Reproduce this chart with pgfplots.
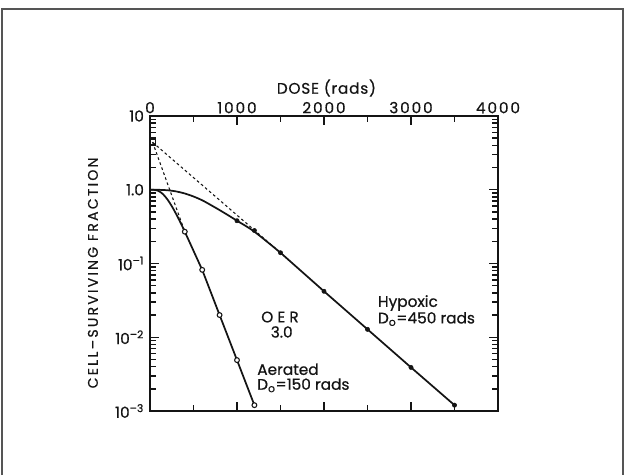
\documentclass[border=0pt]{standalone}
\usepackage{pgfplots}
\pgfplotsset{compat=1.18}
\usepackage{fontspec}
\setmainfont{Poppins}[FakeBold=0.6]
\definecolor{framegray}{RGB}{85,85,85}
\definecolor{ink}{RGB}{20,20,20}
\begin{document}
\begin{tikzpicture}[x=0.75pt,y=0.75pt]
\useasboundingbox (0,0) rectangle (627,475);
\draw[line width=1.5pt, color=framegray] (2,0) -- (2,466) -- (623,466) -- (623,0);
\begin{axis}[
  at={(112.5pt,48pt)}, anchor=south west, scale only axis,
  width=261pt, height=221.25pt,
  xmin=0, xmax=4000, ymode=log, ymin=1e-3, ymax=10,
  clip=false,
  axis line style={line width=1.5pt, ink},
  xtick={0,1000,2000,3000,4000}, minor xtick={500,1500,2500,3500},
  xticklabels={0,1000,2000,3000,4000},
  xticklabel pos=upper,
  ytick={0.001,0.01,0.1,1,10},
  yticklabels={10\textsuperscript{–3},10\textsuperscript{–2},10\textsuperscript{–1},1.0,10},
  minor ytick={0.002,0.003,0.004,0.005,0.006,0.007,0.008,0.009,
               0.02,0.03,0.04,0.05,0.06,0.07,0.08,0.09,
               0.2,0.3,0.4,0.5,0.6,0.7,0.8,0.9,
               2,3,4,5,6,7,8,9},
  tick align=inside,
  major tick length=6.5pt, minor tick length=4.5pt,
  every tick/.style={line width=1.1pt, ink},
  tick label style={font=\fontsize{11.5}{13}\selectfont, text=ink},
  xticklabel style={yshift=-1.5pt, font=\fontsize{11.5}{13}\selectfont\addfontfeature{LetterSpace=12}},
  yticklabel style={xshift=-1pt},
]
% Aerated survival curve
\addplot[line width=1.3pt, ink, smooth, tension=0.5] coordinates {
 (0,1.0) (50,0.996) (100,0.96) (150,0.87) (200,0.74) (250,0.60) (300,0.47) (350,0.36) (400,0.27)};
\addplot[line width=1.3pt, ink] coordinates {
 (400,0.27) (600,0.082) (800,0.020) (1000,0.0049) (1200,0.0012)};
% Hypoxic survival curve
\addplot[line width=1.3pt, ink, smooth, tension=0.5] coordinates {
 (0,1.0) (100,0.998) (200,0.985) (300,0.95) (400,0.89) (500,0.81) (600,0.72) (700,0.62)
 (800,0.53) (900,0.45) (1000,0.38) (1200,0.27) (1500,0.14)};
\addplot[line width=1.3pt, ink] coordinates {
 (1500,0.14) (2000,0.042) (2500,0.0128) (3000,0.0039) (3500,0.0012)};
% Extrapolation lines
\addplot[line width=0.8pt, ink, dash pattern=on 2pt off 2pt] coordinates {(30,4.4) (1500,0.14)};
\addplot[line width=0.8pt, ink, dash pattern=on 2pt off 2pt] coordinates {(30,4.4) (400,0.27)};
\addplot[only marks, mark=square, mark size=2pt, mark options={line width=0.7pt, ink}] coordinates {(30,4.4)};
% Data points
\addplot[only marks, mark=*, mark size=1.6pt, mark options={ink}] coordinates {
 (1000,0.38) (1200,0.28) (1500,0.14) (2000,0.042) (2500,0.0128) (3000,0.0039) (3500,0.0012)};
\addplot[only marks, mark=*, mark size=1.8pt, mark options={fill=white, draw=ink, line width=0.8pt}] coordinates {
 (400,0.27) (600,0.082) (800,0.020) (1000,0.0049) (1200,0.0012)};
% Labels
\node[font=\fontsize{11.5}{13}\selectfont\addfontfeature{LetterSpace=5}, text=ink] at (rel axis cs:0.507,1) [yshift=21pt] {DOSE (rads)};
\node[font=\fontsize{10.5}{12}\selectfont\addfontfeature{LetterSpace=16}, text=ink, rotate=90] at (rel axis cs:-0.164,0.468) {CELL–SURVIVING FRACTION};
\node[font=\fontsize{11.5}{13}\selectfont, text=ink] at (axis cs:1494,0.0188) {O E R};
\node[font=\fontsize{11.5}{13}\selectfont, text=ink] at (axis cs:1514,0.0118) {3.0};
\node[font=\fontsize{11.5}{13}\selectfont, text=ink, anchor=west, inner sep=0pt] at (axis cs:2618,0.0291) {Hypoxic};
\node[font=\fontsize{11.5}{13}\selectfont, text=ink, anchor=west, inner sep=0pt] at (axis cs:2618,0.01767) {D\textsubscript{o}=450 rads};
\node[font=\fontsize{11.5}{13}\selectfont, text=ink, anchor=west, inner sep=0pt] at (axis cs:1230,0.00368) {Aerated};
\node[font=\fontsize{11.5}{13}\selectfont, text=ink, anchor=west, inner sep=0pt] at (axis cs:1230,0.00223) {D\textsubscript{o}=150 rads};
\end{axis}
\end{tikzpicture}
\end{document}
